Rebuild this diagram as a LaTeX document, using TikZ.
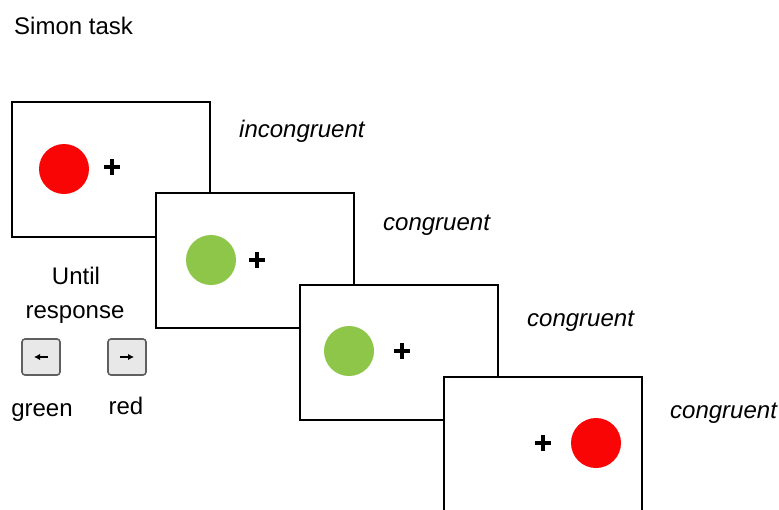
\documentclass[tikz,border=0pt]{standalone}
\usepackage{fontspec}
\setmainfont{Liberation Sans}
\usetikzlibrary{arrows.meta}
\definecolor{stimred}{RGB}{250,5,5}
\definecolor{stimgreen}{RGB}{141,198,72}
\definecolor{keyfill}{RGB}{232,232,232}
\definecolor{keyline}{RGB}{95,95,95}
\begin{document}
\begin{tikzpicture}[x=1pt,y=-1pt,
  frame/.style={draw=black,fill=white,line width=2.4pt,minimum width=198pt,minimum height=135pt,anchor=north west,inner sep=0pt,outer sep=0pt},
  dot/.style={circle,minimum size=50pt,inner sep=0pt},
  fix/.style={inner sep=0pt,minimum size=15pt},
  lbl/.style={font=\fontsize{24}{28}\selectfont\itshape,anchor=base west,inner sep=0pt},
  txt/.style={font=\fontsize{24}{28}\selectfont,inner sep=0pt},
  keybox/.style={draw=keyline,fill=keyfill,line width=1.6pt,rounded corners=3pt,minimum width=38pt,minimum height=36pt,inner sep=0pt},
  keyarrow/.style={line width=1.4pt,-{Latex[length=6pt,width=6.5pt]}}]
\useasboundingbox (0,0) rectangle (779,509);
\clip (0,0) rectangle (779,509);
\node[txt,anchor=base west] (title) at (14,34) {Simon task};
% frames
\node[frame] (f1) at (12,102) {};
\node[frame] (f2) at (156,193) {};
\node[frame] (f3) at (300,285) {};
\node[frame] (f4) at (444,377) {};
% stimuli
\node[dot,fill=stimred] (c1) at (64,169) {};
\node[dot,fill=stimgreen] (c2) at (211,260) {};
\node[dot,fill=stimgreen] (c3) at (349,351) {};
\node[dot,fill=stimred] (c4) at (596,443) {};
\foreach \n/\px/\py in {p1/112/167, p2/257/260, p3/402/351, p4/543/443}{
  \node[fix] (\n) at (\px,\py) {};
  \draw[line width=4pt] (\n.west) -- (\n.east) (\n.north) -- (\n.south);
}
% labels
\node[lbl] (l1) at (239,137) {incongruent};
\node[lbl] (l2) at (383,230) {congruent};
\node[lbl] (l3) at (527,326) {congruent};
\node[lbl] (l4) at (670,418) {congruent};
\node[txt,anchor=base] (until) at (76,284) {Until};
\node[txt,anchor=base] (resp) at (75,318) {response};
% keys
\node[keybox] (kl) at (41,357) {};
\node[keybox] (kr) at (127,357) {};
\coordinate (kla) at ([xshift=7pt]kl.center);
\coordinate (klb) at ([xshift=-7pt]kl.center);
\coordinate (kra) at ([xshift=-7pt]kr.center);
\coordinate (krb) at ([xshift=7pt]kr.center);
\draw[keyarrow] (kla) -- (klb);
\draw[keyarrow] (kra) -- (krb);
\node[txt,anchor=base] (g) at (42,416) {green};
\node[txt,anchor=base] (r) at (126,414) {red};
\end{tikzpicture}
\end{document}
